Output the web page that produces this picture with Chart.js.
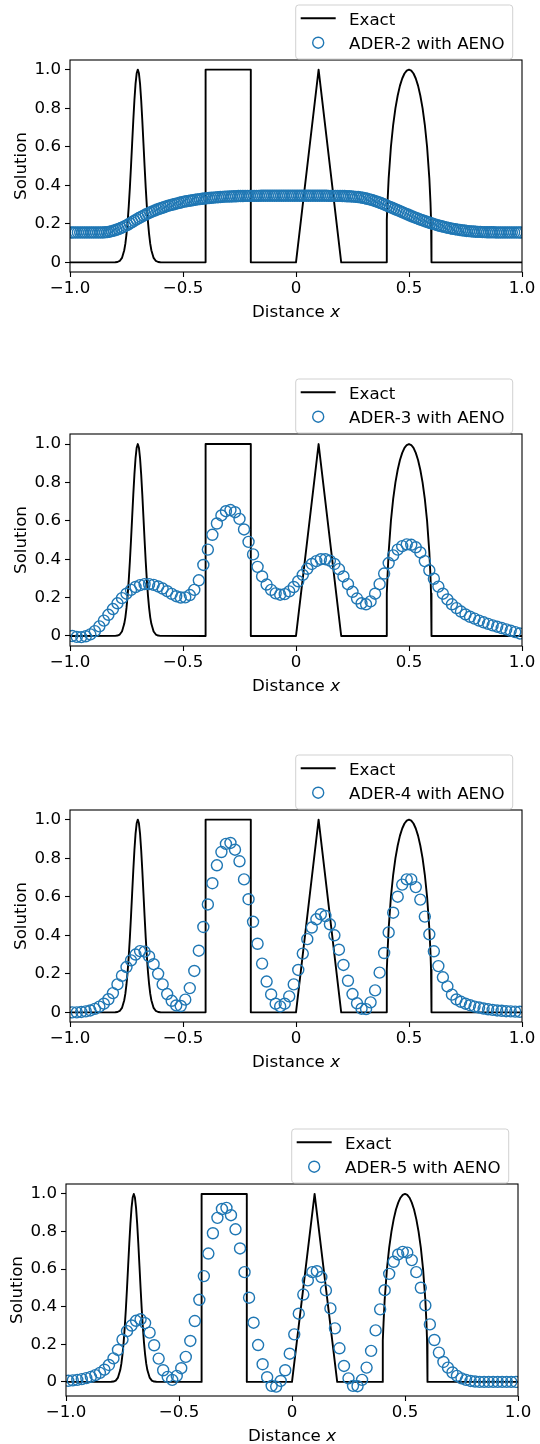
<!DOCTYPE html>
<html><head><meta charset="utf-8">
<script src="https://cdn.jsdelivr.net/npm/chart.js@4"></script>
<style>
html,body{margin:0;padding:0;background:#fff;overflow:hidden;width:540px;height:1444px;position:relative}
.wrap{position:absolute;left:0;width:540px;height:375px}
canvas{display:block}
</style></head><body>
<div class="wrap" style="top:0px"><canvas id="c1" width="540" height="375"></canvas></div>
<div class="wrap" style="top:374px"><canvas id="c2" width="540" height="375"></canvas></div>
<div class="wrap" style="top:750px"><canvas id="c3" width="540" height="375"></canvas></div>
<div class="wrap" style="top:1124px"><canvas id="c4" width="540" height="375"></canvas></div>
<script>
// ---------------- data ----------------
const xTickValues = [-1, -0.5, 0, 0.5, 1];
const xTickLabels = ['\u22121.0', '\u22120.5', '0', '0.5', '1.0'];
const yTickValues = [0, 0.2, 0.4, 0.6, 0.8, 1.0];
const yTickLabels = ['0', '0.2', '0.4', '0.6', '0.8', '1.0'];
const exactName = 'Exact';
const seriesNames = ['ADER-2 with AENO', 'ADER-3 with AENO', 'ADER-4 with AENO', 'ADER-5 with AENO'];
const xTitleA = 'Distance ', xTitleB = 'x', yTitle = 'Solution';

const exactX = [-1, -0.8, -0.79, -0.78, -0.77, -0.76, -0.755, -0.75, -0.745, -0.74, -0.735, -0.73, -0.725, -0.72, -0.715, -0.71, -0.705, -0.7,
  -0.695, -0.69, -0.685, -0.68, -0.675, -0.67, -0.665, -0.66, -0.655, -0.65, -0.645, -0.64, -0.63, -0.62, -0.61, -0.6,
  -0.4, -0.4, -0.2, -0.2, 0, 0.1, 0.2, 0.4,
  0.401, 0.4025, 0.405, 0.41, 0.42, 0.43, 0.44, 0.45, 0.46, 0.47, 0.48, 0.49, 0.5,
  0.51, 0.52, 0.53, 0.54, 0.55, 0.56, 0.57, 0.58, 0.59, 0.595, 0.5975, 0.599, 0.6, 1];
const exactY = [0, 0.0005, 0.0019, 0.0072, 0.023, 0.063, 0.097, 0.146, 0.21, 0.292, 0.389, 0.5, 0.618, 0.735, 0.841, 0.926, 0.981, 1,
  0.981, 0.926, 0.841, 0.735, 0.618, 0.5, 0.389, 0.292, 0.21, 0.146, 0.097, 0.063, 0.023, 0.0072, 0.0019, 0.0005,
  0, 1, 1, 0, 0, 1, 0, 0,
  0.141, 0.222, 0.312, 0.436, 0.6, 0.714, 0.8, 0.866, 0.917, 0.954, 0.98, 0.995, 1,
  0.995, 0.98, 0.954, 0.917, 0.866, 0.8, 0.714, 0.6, 0.436, 0.312, 0.222, 0.141, 0, 0];

const ader2 = [
  0.155,0.155,0.155,0.155,0.155,0.155,0.155,0.155,0.155,0.155,
  0.155,0.155,0.155,0.155,0.155,0.156,0.157,0.159,0.162,0.165,
  0.169,0.173,0.178,0.183,0.189,0.195,0.202,0.209,0.216,0.223,
  0.230,0.236,0.242,0.248,0.254,0.259,0.264,0.269,0.274,0.278,
  0.282,0.286,0.290,0.294,0.297,0.300,0.303,0.306,0.309,0.312,
  0.315,0.317,0.319,0.321,0.323,0.325,0.327,0.328,0.330,0.331,
  0.333,0.334,0.335,0.336,0.337,0.338,0.339,0.340,0.341,0.341,
  0.342,0.342,0.343,0.343,0.344,0.344,0.344,0.345,0.345,0.345,
  0.345,0.345,0.345,0.345,0.346,0.346,0.346,0.346,0.346,0.346,
  0.346,0.346,0.346,0.346,0.346,0.346,0.346,0.346,0.346,0.346,
  0.346,0.346,0.346,0.346,0.346,0.346,0.346,0.346,0.346,0.346,
  0.346,0.346,0.346,0.346,0.345,0.345,0.345,0.345,0.345,0.345,
  0.344,0.344,0.343,0.343,0.342,0.341,0.340,0.339,0.337,0.335,
  0.333,0.330,0.327,0.324,0.320,0.316,0.312,0.308,0.303,0.298,
  0.293,0.288,0.283,0.278,0.273,0.268,0.263,0.258,0.253,0.248,
  0.243,0.238,0.233,0.229,0.224,0.220,0.216,0.212,0.208,0.204,
  0.200,0.197,0.193,0.190,0.187,0.184,0.181,0.179,0.176,0.174,
  0.172,0.170,0.168,0.166,0.165,0.163,0.162,0.161,0.160,0.159,
  0.158,0.158,0.157,0.157,0.156,0.156,0.156,0.156,0.155,0.155,
  0.155,0.155,0.155,0.155,0.155,0.155,0.155,0.155,0.155,0.155];

const ader3 = [
  0.000,-0.005,-0.006,-0.002,0.008,0.025,0.050,0.080,0.110,0.140,
  0.170,0.197,0.220,0.240,0.255,0.265,0.270,0.270,0.266,0.258,
  0.247,0.233,0.219,0.207,0.200,0.201,0.213,0.240,0.290,0.370,
  0.450,0.527,0.586,0.628,0.650,0.656,0.645,0.610,0.555,0.490,
  0.425,0.360,0.310,0.268,0.240,0.222,0.215,0.218,0.232,0.255,
  0.285,0.318,0.350,0.375,0.390,0.400,0.400,0.392,0.375,0.348,
  0.310,0.270,0.230,0.195,0.170,0.165,0.180,0.220,0.270,0.325,
  0.380,0.420,0.450,0.468,0.477,0.475,0.462,0.435,0.390,0.342,
  0.298,0.257,0.220,0.190,0.165,0.145,0.127,0.112,0.100,0.090,
  0.080,0.071,0.063,0.055,0.048,0.041,0.034,0.027,0.020,0.013];

const ader4 = [
  0.000,0.000,0.002,0.005,0.010,0.018,0.030,0.045,0.068,0.100,
  0.145,0.190,0.235,0.270,0.300,0.318,0.315,0.290,0.250,0.200,
  0.145,0.095,0.060,0.036,0.033,0.066,0.126,0.215,0.320,0.443,
  0.560,0.670,0.763,0.832,0.874,0.879,0.844,0.784,0.690,0.587,
  0.470,0.356,0.253,0.160,0.093,0.045,0.031,0.045,0.083,0.145,
  0.220,0.305,0.380,0.440,0.483,0.509,0.500,0.457,0.400,0.325,
  0.246,0.164,0.095,0.047,0.019,0.017,0.052,0.114,0.206,0.308,
  0.415,0.517,0.600,0.663,0.690,0.690,0.650,0.585,0.497,0.405,
  0.317,0.240,0.182,0.135,0.092,0.067,0.055,0.045,0.037,0.030,
  0.025,0.020,0.016,0.013,0.010,0.008,0.006,0.005,0.004,0.003];

const ader5 = [
  0.006,0.008,0.011,0.015,0.020,0.027,0.036,0.048,0.065,0.090,
  0.125,0.170,0.225,0.270,0.300,0.325,0.333,0.313,0.262,0.195,
  0.124,0.062,0.027,0.011,0.032,0.073,0.133,0.218,0.324,0.437,
  0.563,0.683,0.791,0.873,0.920,0.926,0.887,0.812,0.710,0.584,
  0.448,0.315,0.196,0.094,0.025,-0.021,-0.025,0.005,0.062,0.150,
  0.253,0.363,0.465,0.540,0.584,0.589,0.558,0.487,0.391,0.285,
  0.179,0.085,0.019,-0.021,-0.023,0.011,0.076,0.165,0.274,0.386,
  0.488,0.575,0.639,0.678,0.692,0.688,0.648,0.584,0.501,0.407,
  0.306,0.223,0.156,0.106,0.076,0.050,0.032,0.019,0.011,0.005,
  0.002,0.000,0.000,0.000,0.000,0.000,0.000,0.000,0.000,0.000];

// cell-centre grids (categories) for the numerical solutions
const cellCentres = n => Array.from({length: n}, (_, i) => -1 + (i + 0.5) * 2 / n);
const x200 = cellCentres(200);
const x100 = cellCentres(100);

// ---------------- drawing ----------------
const FAM = '"DejaVu Sans", sans-serif';
const FS = 16.67;
const FONT = FS + 'px ' + FAM;
const BLUE = '#1f77b4';

function rrect(c, x, y, w, h, r) {
  c.beginPath();
  c.moveTo(x + r, y);
  c.lineTo(x + w - r, y); c.arcTo(x + w, y, x + w, y + r, r);
  c.lineTo(x + w, y + h - r); c.arcTo(x + w, y + h, x + w - r, y + h, r);
  c.lineTo(x + r, y + h); c.arcTo(x, y + h, x, y + h - r, r);
  c.lineTo(x, y + r); c.arcTo(x, y, x + r, y, r);
  c.closePath();
}

function decoPlugin(name) {
  return {
    id: 'deco',
    afterDraw(chart) {
      const c = chart.ctx, a = chart.chartArea;
      c.save();
      // spines
      c.strokeStyle = '#000'; c.lineWidth = 1.1;
      c.strokeRect(a.left, a.top, a.right - a.left, a.bottom - a.top);
      // legend
      const w = 217, h = 54, lx = a.right - 9.3 - w, ly = a.top - 1 - h;
      rrect(c, lx, ly, w, h, 3);
      c.fillStyle = 'rgba(255,255,255,0.85)'; c.fill();
      c.strokeStyle = 'rgba(204,204,204,0.9)'; c.lineWidth = 1; c.stroke();
      c.strokeStyle = '#000'; c.lineWidth = 1.9; c.lineCap = 'butt';
      c.beginPath(); c.moveTo(lx + 5, ly + 13.3); c.lineTo(lx + 40, ly + 13.3); c.stroke();
      c.strokeStyle = BLUE; c.lineWidth = 1.4;
      c.beginPath(); c.arc(lx + 22.5, ly + 37.7, 5.5, 0, 2 * Math.PI); c.stroke();
      c.fillStyle = '#000'; c.font = FONT; c.textAlign = 'left'; c.textBaseline = 'alphabetic';
      c.fillText(exactName, lx + 53.3, ly + 19.8);
      c.fillText(name, lx + 53.3, ly + 44.3);
      // x title with italic x
      const base = a.bottom + 44.5;
      c.font = FONT; const w1 = c.measureText(xTitleA).width;
      c.font = 'italic ' + FONT; const w2 = c.measureText(xTitleB).width;
      const sx = (a.left + a.right) / 2 - (w1 + w2) / 2;
      c.font = FONT; c.fillText(xTitleA, sx, base);
      c.font = 'italic ' + FONT; c.fillText(xTitleB, sx + w1, base);
      // y title
      c.translate(a.left - 44, (a.top + a.bottom) / 2);
      c.rotate(-Math.PI / 2);
      c.font = FONT; c.textAlign = 'center';
      c.fillText(yTitle, 0, 0);
      c.restore();
    }
  };
}

function makeChart(id, xs, ys, name, yMin, yMax, axLeft) {
  const cv = document.getElementById(id);
  return new Chart(cv, {
    type: 'scatter',
    data: {
      datasets: [
        { label: name, data: xs.map((x, i) => ({x: x, y: ys[i]})), showLine: false,
          pointStyle: 'circle', pointRadius: 5.5, pointHoverRadius: 5.5, pointBorderWidth: 1.4,
          pointBorderColor: BLUE, pointBackgroundColor: 'rgba(0,0,0,0)', borderColor: BLUE,
          order: 1, clip: 0 },
        { label: exactName, data: exactX.map((x, i) => ({x: x, y: exactY[i]})), showLine: true,
          pointRadius: 0, pointHoverRadius: 0, borderColor: '#000', borderWidth: 1.9,
          borderJoinStyle: 'round', tension: 0, order: 2, clip: 0 }
      ]
    },
    options: {
      responsive: false, animation: false, devicePixelRatio: 1, events: [],
      layout: { padding: { left: 0, right: 540 - axLeft - 452, top: 60, bottom: 53 } },
      plugins: { legend: { display: false }, tooltip: { enabled: false }, title: { display: false } },
      scales: {
        x: {
          type: 'linear', min: -1, max: 1,
          afterBuildTicks: s => { s.ticks = xTickValues.map(v => ({value: v})); },
          afterFit: s => { s.height = 50; },
          grid: { drawOnChartArea: false, drawTicks: true, tickLength: 5, tickWidth: 1.1, tickColor: '#000', color: '#000' },
          border: { display: false },
          ticks: { color: '#000', font: { family: FAM, size: FS }, padding: 2, maxRotation: 0, autoSkip: false,
                   callback: (v, i) => xTickLabels[i] }
        },
        y: {
          type: 'linear', min: yMin, max: yMax,
          afterBuildTicks: s => { s.ticks = yTickValues.map(v => ({value: v})); },
          afterFit: s => { s.width = axLeft; },
          grid: { drawOnChartArea: false, drawTicks: true, tickLength: 5, tickWidth: 1.1, tickColor: '#000', color: '#000' },
          border: { display: false },
          ticks: { color: '#000', font: { family: FAM, size: FS }, padding: 4, autoSkip: false,
                   callback: (v, i) => yTickLabels[i] }
        }
      }
    },
    plugins: [decoPlugin(name)]
  });
}

makeChart('c1', x200, ader2, seriesNames[0], -0.05, 1.05, 70);
makeChart('c2', x100, ader3, seriesNames[1], -0.0525, 1.0525, 70);
makeChart('c3', x100, ader4, seriesNames[2], -0.05, 1.05, 70);
makeChart('c4', x100, ader5, seriesNames[3], -0.075, 1.053, 66);
</script>
</body></html>
